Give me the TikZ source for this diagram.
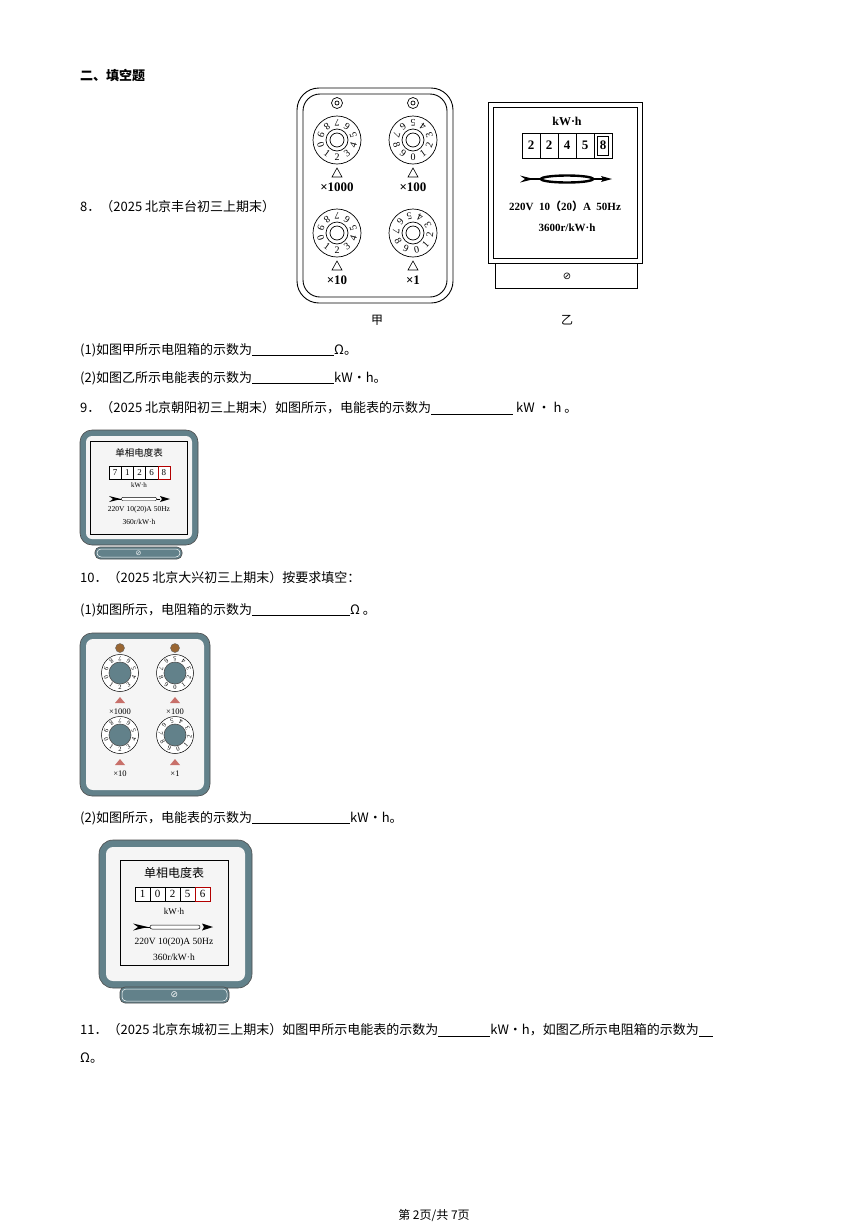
\documentclass[tikz,border=0pt]{standalone}
\usepackage{fontspec}
\usetikzlibrary{calc}
\setmainfont{Liberation Serif}
\newfontfamily\cjk{Noto Sans CJK SC}
\newfontfamily\djv{DejaVu Sans}
\begin{document}
\begin{tikzpicture}[x=1pt,y=-1pt,
  txt/.style={anchor=west,inner sep=0pt,font=\cjk\fontsize{13}{13}\selectfont},
  slate/.style={fill=meter,draw=black!70,line width=0.6pt},
  lbl/.style={inner sep=0pt,font=\fontsize{12}{12}\selectfont\bfseries}]
\definecolor{meter}{HTML}{62818A}
\definecolor{tri}{HTML}{C8706A}
\useasboundingbox (0,0) rectangle (868,1227);
\fill[white] (0,0) rectangle (868,1227);
\newcommand\blank[1]{\underline{\hspace{#1pt}}}
% texts
\node[txt,font=\cjk\bfseries\fontsize{13}{13}\selectfont] (t0) at (80,76) {二、填空题};
\node[txt] (t8) at (80,207) {8．（2025 北京丰台初三上期末）};
\node[txt] (t81) at (80,350) {(1)如图甲所示电阻箱的示数为\blank{82}Ω。};
\node[txt] (t82) at (80,378) {(2)如图乙所示电能表的示数为\blank{82}kW·h。};
\node[txt] (t9) at (80,408) {9．（2025 北京朝阳初三上期末）如图所示，电能表的示数为\blank{82} kW · h 。};
\node[txt] (t10) at (80,578) {10．（2025 北京大兴初三上期末）按要求填空：};
\node[txt] (t101) at (80,610) {(1)如图所示，电阻箱的示数为\blank{98}Ω 。};
\node[txt] (t102) at (80,818) {(2)如图所示，电能表的示数为\blank{98}kW·h。};
\node[txt] (t11) at (80,1030) {11．（2025 北京东城初三上期末）如图甲所示电能表的示数为\blank{52}kW·h，如图乙所示电阻箱的示数为\blank{14}};
\node[txt] (t11b) at (80,1058) {Ω。};
\node[txt,anchor=center,font=\cjk\fontsize{12}{12}\selectfont] (pg) at (434,1215) {第 2页/共 7页};
% ---------- Fig 甲 ----------
\draw[line width=0.9pt,rounded corners=22pt] (297,88) rectangle (453,303);
\draw[line width=0.9pt,rounded corners=17pt] (303,94) rectangle (447,297);
\foreach \cx/\cy/\st/\lab in {337/140/198/{×1000},413/140/270/{×100},337/233/198/{×10},413/233/282/{×1}}{
  \draw[line width=0.7pt] (\cx,\cy) circle (24);
  \draw[line width=0.7pt] (\cx,\cy) circle (11);
  \draw[line width=0.7pt] (\cx,\cy) circle (7);
  \foreach \i in {0,...,9}{
    \pgfmathsetmacro\an{\st+36*\i}
    \node[inner sep=0pt,font=\fontsize{10}{10}\selectfont,rotate=\an+90] at ({\cx+17*cos(\an)},{\cy-17*sin(\an)}) {\i};
  }
  \draw[line width=0.6pt] (\cx-5,\cy+37) -- (\cx+5,\cy+37) -- (\cx,\cy+28) -- cycle;
  \node[lbl,font=\fontsize{13}{13}\selectfont\bfseries] at (\cx,\cy+47) {\lab};
}
\foreach \cx in {337,413}{
  \draw[line width=0.7pt] (\cx,103) circle (5.5);
  \draw[line width=0.7pt] (\cx,103) circle (2);
}
\node[inner sep=0pt,font=\cjk\fontsize{12}{12}\selectfont] (jia) at (377,320) {甲};
% ---------- Fig 乙 ----------
\draw[line width=0.9pt] (488,102) rectangle (642,263);
\draw[line width=0.9pt] (493,107) rectangle (637,258);
\draw[line width=0.9pt] (495,263) rectangle (637,288);
\node[inner sep=0pt,font=\djv\fontsize{10}{10}\selectfont] at (567,276) {⊘};
\node[lbl] at (567,121) {kW·h};
\foreach \d [count=\k from 0] in {2,2,4,5,8}{
  \draw[line width=0.8pt] (522+18*\k,133) rectangle (540+18*\k,158);
  \node[lbl,font=\fontsize{13}{13}\selectfont\bfseries] at (531+18*\k,145.5) {\d};
}
\draw[line width=0.7pt] (597,136) rectangle (608,155);
\draw[line width=1.2pt] (528,179) -- (608,179);
\fill (520,175.5) -- (534,179) -- (520,182.5) -- (525,179) -- cycle;
\fill (612,179) -- (601,176) -- (603,179) -- (601,182) -- cycle;
\draw[line width=2.4pt,fill=white] (567,179) ellipse (26 and 3.5);
\node[lbl,font=\fontsize{11}{11}\selectfont\bfseries] at (565,206) {220V\ \ 10{\cjk\bfseries （}20{\cjk\bfseries ）}A\ \ 50Hz};
\node[lbl,font=\fontsize{11}{11}\selectfont\bfseries] at (567,228) {3600r/kW·h};
\node[inner sep=0pt,font=\cjk\fontsize{12}{12}\selectfont] (yi) at (567,320) {乙};
% ---------- Q9 meter ----------
\fill[meter,draw=black!70,line width=0.6pt,rounded corners=12pt] (80,430) rectangle (198,545);
\fill[white!92!gray,rounded corners=6pt] (86,436) rectangle (192,539);
\draw[line width=0.5pt] (90,441) rectangle (187,534);
\draw[slate,rounded corners=5pt] (95,547) rectangle (182,559);
\draw[white,line width=0.5pt,rounded corners=4pt] (97,549) rectangle (180,557);
\node[inner sep=0pt,white,font=\djv\fontsize{7}{7}\selectfont] at (138.5,553) {⊘};
\node[inner sep=0pt,font=\cjk\fontsize{9.5}{9.5}\selectfont] at (139,453) {单相电度表};
\foreach \d [count=\k from 0] in {7,1,2,6,8}{
  \draw[line width=0.5pt,fill=white] (109+12.2*\k,466) rectangle (121.2+12.2*\k,479);
  \node[inner sep=0pt,font=\fontsize{9}{9}\selectfont] at (115.1+12.2*\k,472.5) {\d};
}
\draw[red!70!black,line width=0.5pt] (157.8,466) rectangle (170,479);
\node[inner sep=0pt,font=\fontsize{7}{7}\selectfont] at (139,485) {kW·h};
\draw[line width=0.4pt] (118,499) -- (160,499);
\fill (109,496) -- (121,499) -- (109,502) -- (113,499) -- cycle;
\fill (170,499) -- (160,496) -- (162,499) -- (160,502) -- cycle;
\draw[line width=0.4pt,fill=white,rounded corners=1.5pt] (121,497.3) rectangle (157,500.7);
\node[inner sep=0pt,font=\fontsize{7.5}{7.5}\selectfont] at (139,510) {220V 10(20)A 50Hz};
\node[inner sep=0pt,font=\fontsize{7.5}{7.5}\selectfont] at (139,522) {360r/kW·h};
% ---------- Q10 resistance box ----------
\fill[meter,draw=black!70,line width=0.6pt,rounded corners=12pt] (80,633) rectangle (210,796);
\fill[white!92!gray,rounded corners=7pt] (86,639) rectangle (204,790);
\foreach \cx/\cy/\st/\lab in {120/673/198/{×1000},175/673/270/{×100},120/735/198/{×10},175/735/282/{×1}}{
  \draw[line width=0.5pt,fill=white] (\cx,\cy) circle (18.5);
  \foreach \i in {0,...,9}{
    \pgfmathsetmacro\an{\st+36*\i}
    \node[inner sep=0pt,font=\fontsize{6.5}{6.5}\selectfont,rotate=\an+90] at ({\cx+14.5*cos(\an)},{\cy-14.5*sin(\an)}) {\i};
  }
  \draw[slate] (\cx,\cy) circle (11);
  \fill[tri] (\cx-5,\cy+30) -- (\cx+5,\cy+30) -- (\cx,\cy+24) -- cycle;
  \node[inner sep=0pt,font=\fontsize{8.5}{8.5}\selectfont] at (\cx,\cy+39) {\lab};
}
\foreach \cx in {120,175}{
  \draw[fill=brown!80!black,draw=black!60,line width=0.4pt] (\cx,648) circle (4.5);
}
% ---------- Q10(2) meter ----------
\fill[meter,draw=black!70,line width=0.6pt,rounded corners=14pt] (99,840) rectangle (252,988);
\fill[white!92!gray,rounded corners=7pt] (106,847) rectangle (245,981);
\draw[line width=0.5pt] (120,860) rectangle (228,965);
\draw[slate,rounded corners=5pt] (120,987) rectangle (229,1003);
\draw[white,line width=0.5pt,rounded corners=4pt] (122,989) rectangle (227,1001);
\node[inner sep=0pt,white,font=\djv\fontsize{9}{9}\selectfont] at (174.5,995) {⊘};
\node[inner sep=0pt,font=\cjk\fontsize{12}{12}\selectfont] at (174,873) {单相电度表};
\foreach \d [count=\k from 0] in {1,0,2,5,6}{
  \draw[line width=0.6pt,fill=white] (135+15*\k,887) rectangle (150+15*\k,901);
  \node[inner sep=0pt,font=\fontsize{11}{11}\selectfont] at (142.5+15*\k,894) {\d};
}
\draw[red!70!black,line width=0.6pt] (195,887) rectangle (210,901);
\node[inner sep=0pt,font=\fontsize{9}{9}\selectfont] at (174,911) {kW·h};
\draw[line width=0.4pt] (140,927) -- (200,927);
\fill (133,923.5) -- (148,927) -- (133,930.5) -- (138,927) -- cycle;
\fill (213,927) -- (202,923.5) -- (204,927) -- (202,930.5) -- cycle;
\draw[line width=0.5pt,fill=white,rounded corners=2pt] (150,925) rectangle (200,929);
\node[inner sep=0pt,font=\fontsize{9.5}{9.5}\selectfont] at (174,942) {220V 10(20)A 50Hz};
\node[inner sep=0pt,font=\fontsize{9.5}{9.5}\selectfont] at (174,957) {360r/kW·h};
\end{tikzpicture}
\end{document}
